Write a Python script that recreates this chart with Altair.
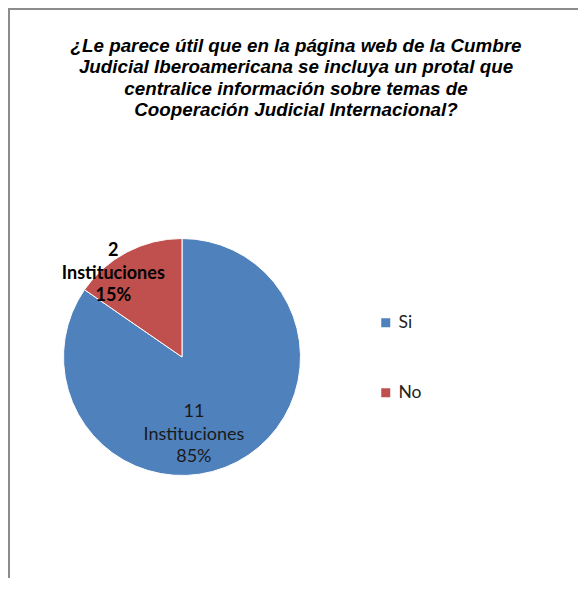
import altair as alt
import pandas as pd

# ---- data ----
answers = ["Si", "No"]
counts = [11, 2]
percents = ["85%", "15%"]
colors = ["#4F81BD", "#C0504D"]
title_lines = [
    "¿Le parece útil que en la página web de la Cumbre",
    "Judicial Iberoamericana se incluya un protal que",
    "centralice información sobre temas de",
    "Cooperación Judicial Internacional?",
]

df = pd.DataFrame({
    "answer": answers,
    "count": counts,
    "order": list(range(len(answers))),
    "label": [f"{c}\nInstituciones\n{p}" for c, p in zip(counts, percents)],
})

W, H = 570, 570
CX, CY, R = 174, 349, 118.5

base = alt.Chart(df).encode(
    theta=alt.Theta("count:Q", stack=True),
    order=alt.Order("order:Q"),
)

pie = base.mark_arc(outerRadius=R, stroke="white", strokeWidth=1).encode(
    x=alt.value(CX),
    y=alt.value(CY),
    color=alt.Color(
        "answer:N",
        scale=alt.Scale(domain=answers, range=colors),
        sort=answers,
        legend=alt.Legend(
            title=None,
            orient="none",
            legendX=369,
            legendY=306,
            symbolType="square",
            symbolSize=81,
            symbolStrokeWidth=0,
            labelFont="Lato",
            labelFontSize=17.5,
            labelColor="#222222",
            labelOffset=4,
            rowPadding=51,
            padding=0,
        ),
    ),
)

lbl_si = base.mark_text(
    radius=88, dx=-29, dy=-22.5, font="Lato", fontSize=18, lineHeight=22.5,
    lineBreak="\n", align="center", baseline="middle", color="#1a1a1a",
).encode(
    x=alt.value(CX), y=alt.value(CY),
    text=alt.condition(alt.datum.answer == "Si", alt.Text("label:N"), alt.value("")),
)

lbl_no = base.mark_text(
    radius=94, dx=-25, dy=-22.5, font="Lato", fontSize=18, fontWeight="bold",
    lineHeight=22.5, lineBreak="\n", align="center", baseline="middle",
    color="#000000",
).encode(
    x=alt.value(CX), y=alt.value(CY),
    text=alt.condition(alt.datum.answer == "No", alt.Text("label:N"), alt.value("")),
)

frame_df = pd.DataFrame({"k": [0]})
left_rule = alt.Chart(frame_df).mark_rule(color="#8c8c8c", strokeWidth=2).encode(
    x=alt.value(1), y=alt.value(0), y2=alt.value(H)
)
top_rule = alt.Chart(frame_df).mark_rule(color="#8c8c8c", strokeWidth=2).encode(
    x=alt.value(0), x2=alt.value(W), y=alt.value(1)
)

chart = alt.layer(left_rule, top_rule, pie, lbl_si, lbl_no).properties(
    width=W,
    height=H,
    padding={"left": 0, "top": 0, "right": 0, "bottom": 0},
    autosize=alt.AutoSizeParams(type="none"),
    title=alt.TitleParams(
        text=title_lines,
        orient="top",
        anchor="middle",
        frame="group",
        offset=-113,
        dx=3,
        font="Liberation Sans",
        fontSize=18.8,
        fontWeight="bold",
        fontStyle="italic",
        lineHeight=21.5,
        color="#000000",
    ),
).configure_view(stroke=None).configure(background="white")

chart.save("out.html", embed_options={"renderer": "svg", "actions": False})
